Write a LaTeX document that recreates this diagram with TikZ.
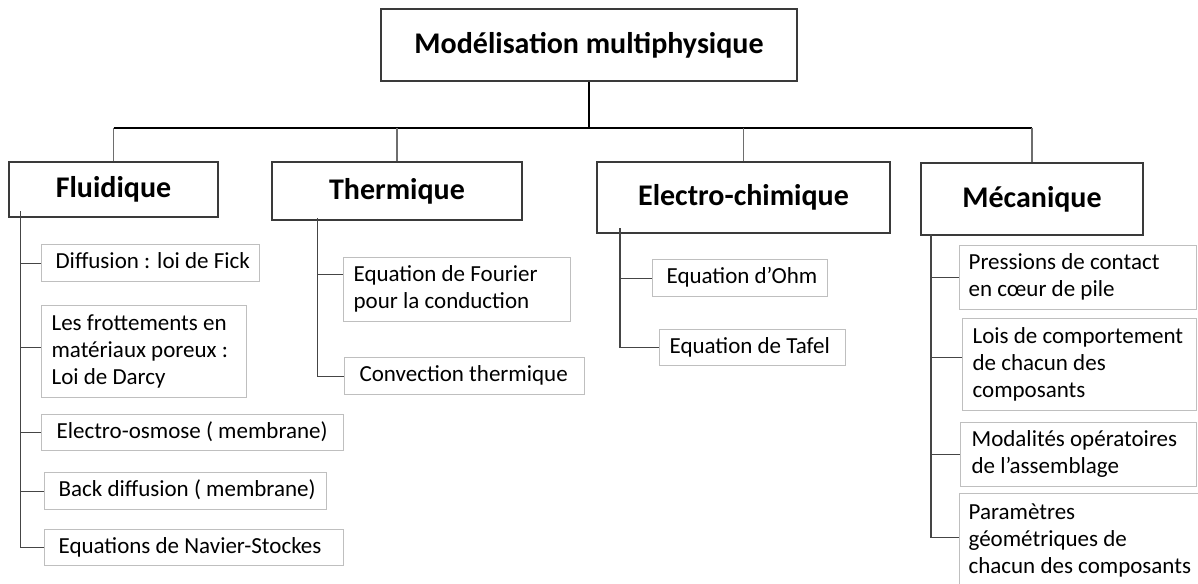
\documentclass[tikz,border=0pt]{standalone}
\usepackage{fontspec}
\setmainfont{Carlito}
\definecolor{subgray}{HTML}{BFBFBF}
\definecolor{boxgray}{HTML}{3A3A3A}
\definecolor{lingray}{HTML}{454545}
\definecolor{stemgray}{HTML}{6E6E6E}
\newcommand\boxtxt[3]{\makebox[#1pt][l]{\hspace*{#2pt}\begin{tabular}{@{}l@{}}#3\end{tabular}}}
\begin{document}
\begin{tikzpicture}[x=1pt,y=-1pt,
  title/.style={draw=boxgray, line width=1.1pt, inner sep=0pt, align=center,
    font=\fontsize{30}{36}\selectfont\bfseries},
  sub/.style={draw=subgray, line width=1.2pt, inner sep=0pt,
    anchor=north west, font=\fontsize{23}{27}\selectfont},
  conn/.style={draw=lingray, line width=1.1pt},
  busline/.style={draw=black, line width=1.2pt},
  stemline/.style={draw=stemgray, line width=1.1pt}]
\useasboundingbox (0,0) rectangle (1198,583);
\clip (0,0) rectangle (1198,583);
\fill[white] (0,0) rectangle (1198,583);

% titles
\node[title, minimum width=416pt, minimum height=72pt] (root) at (589,45) {Modélisation multiphysique};
\node[title, minimum width=209pt, minimum height=55pt] (fluid) at (113.5,189.5) {Fluidique};
\node[title, minimum width=250pt, minimum height=58pt] (therm) at (397,191) {Thermique};
\node[title, minimum width=293pt, minimum height=71pt] (elec) at (743.5,197.5) {Electro-chimique};
\node[title, minimum width=222pt, minimum height=72pt] (meca) at (1032,199) {Mécanique};

% bus
\coordinate (bus) at (589,128);
\draw[busline] (root.south) -- (bus);
\draw[busline] (fluid.north |- bus) -- (meca.north |- bus);
\draw[stemline] (fluid.north) -- (fluid.north |- bus);
\draw[stemline] (meca.north) -- (meca.north |- bus);
\draw[stemline] (therm.north) -- (therm.north |- bus);
\draw[stemline] (elec.north) -- (elec.north |- bus);

% Fluidique items
\node[sub, minimum height=37pt] (diff) at (41,244) {\boxtxt{218}{14}{Diffusion : loi de Fick}};
\node[sub, minimum height=92pt] (frot) at (41,305) {\boxtxt{205}{10}{Les frottements en\\matériaux poreux :\\Loi de Darcy}};
\node[sub, minimum height=36pt] (osm) at (41,414) {\boxtxt{302}{15}{Electro-osmose ( membrane)}};
\node[sub, minimum height=37pt] (back) at (44,472) {\boxtxt{282}{14}{Back diffusion ( membrane)}};
\node[sub, minimum height=36pt] (nav) at (44,529) {\boxtxt{299}{14}{Equations de Navier-Stockes}};

% Thermique items
\node[sub, minimum height=64pt] (four) at (343,257) {\boxtxt{227}{10}{Equation de Fourier\\pour la conduction}};
\node[sub, minimum height=37pt] (conv) at (344,357) {\boxtxt{240}{15}{Convection thermique}};

% Electro-chimique items
\node[sub, minimum height=37pt] (ohm) at (652,259) {\boxtxt{175}{14}{Equation d’Ohm}};
\node[sub, minimum height=36pt] (taf) at (659,329) {\boxtxt{186}{10}{Equation de Tafel}};

% Mecanique items
\node[sub, minimum height=64pt] (pres) at (959,245) {\boxtxt{237}{9}{Pressions de contact\\en cœur de pile}};
\node[sub, minimum height=92pt] (lois) at (962,318) {\boxtxt{234}{10}{Lois de comportement\\de chacun des\\composants}};
\node[sub, minimum height=64pt] (moda) at (960,422) {\boxtxt{236}{11}{Modalités opératoires\\de l’assemblage}};
\node[sub, minimum height=95pt] (para) at (959,493) {\boxtxt{270}{9}{Paramètres\\géométriques de\\chacun des composants}};

% trunks
\coordinate (ft) at (20.5,211);
\coordinate (tt) at (317.5,218);
\coordinate (et) at (620,228);
\coordinate (mt) at (931,234);

\coordinate (frotc) at ([yshift=4pt]frot.west);
\draw[conn] (ft) |- (nav.west);
\draw[conn] (ft |- diff.west) -- (diff.west);
\draw[conn] (ft |- frotc) -- (frotc);
\draw[conn] (ft |- osm.west) -- (osm.west);
\draw[conn] (ft |- back.west) -- (back.west);

\coordinate (fourc) at ([yshift=15pt]four.west);
\draw[conn] (tt) |- (conv.west);
\draw[conn] (tt |- fourc) -- (fourc);

\draw[conn] (et) |- (taf.west);
\draw[conn] (et |- ohm.west) -- (ohm.west);

\coordinate (loisc) at ([yshift=7pt]lois.west);
\coordinate (parac) at ([yshift=4pt]para.west);
\draw[conn] (mt) |- (parac);
\draw[conn] (mt |- pres.west) -- (pres.west);
\draw[conn] (mt |- loisc) -- (loisc);
\draw[conn] (mt |- moda.west) -- (moda.west);
\end{tikzpicture}
\end{document}
